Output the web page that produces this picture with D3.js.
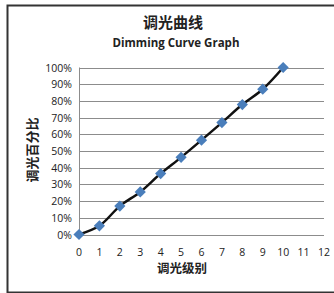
<!DOCTYPE html>
<html>
<head>
<meta charset="utf-8">
<script src="https://cdn.jsdelivr.net/npm/d3@7"></script>
<style>
  body { margin: 0; background: #fff; }
  svg { display: block; }
  text { font-family: "Open Sans", "Noto Sans CJK SC", sans-serif; fill: #222; }
</style>
</head>
<body>
<script>
var levels = [0, 1, 2, 3, 4, 5, 6, 7, 8, 9, 10];
var percents = [0, 5.2, 17, 25.5, 36.5, 46.2, 56.5, 67, 77.8, 87, 100];
var xTicks = [0, 1, 2, 3, 4, 5, 6, 7, 8, 9, 10, 11, 12];
var yTicks = [0, 10, 20, 30, 40, 50, 60, 70, 80, 90, 100];

var w = 334, h = 293;

var svg = d3.select("body").append("svg")
  .attr("width", w)
  .attr("height", h);

// outer chart frame
svg.append("rect")
  .attr("x", 7.5).attr("y", 5.5)
  .attr("width", 340).attr("height", 287)
  .attr("fill", "#fff")
  .attr("stroke", "#333")
  .attr("stroke-width", 2);

var xScale = d3.scaleLinear().domain([0, 12]).range([79, 324]);
var yScale = d3.scaleLinear().domain([0, 100]).range([234.5, 67.5]);

// gridlines
svg.selectAll("line.grid")
  .data(yTicks)
  .enter()
  .append("line")
  .attr("class", "grid")
  .attr("x1", xScale(0)).attr("x2", xScale(12))
  .attr("y1", function(d) { return Math.round(yScale(d)) + 0.5; })
  .attr("y2", function(d) { return Math.round(yScale(d)) + 0.5; })
  .attr("stroke", "#8c8c8c")
  .attr("stroke-width", 1);

// y axis line
svg.append("line")
  .attr("x1", xScale(0) + 0.5).attr("x2", xScale(0) + 0.5)
  .attr("y1", yScale(100)).attr("y2", yScale(0))
  .attr("stroke", "#8c8c8c");

// y tick labels
svg.selectAll("text.ytick")
  .data(yTicks)
  .enter()
  .append("text")
  .attr("class", "ytick")
  .attr("x", 72)
  .attr("y", function(d) { return yScale(d) + 4; })
  .attr("text-anchor", "end")
  .style("font-size", "10.5px")
  .text(function(d) { return d + "%"; });

// x tick labels
svg.selectAll("text.xtick")
  .data(xTicks)
  .enter()
  .append("text")
  .attr("class", "xtick")
  .attr("x", function(d) { return xScale(d); })
  .attr("y", 256)
  .attr("text-anchor", "middle")
  .style("font-size", "10.5px")
  .text(function(d) { return d; });

// titles
svg.append("text")
  .attr("x", 173).attr("y", 28)
  .attr("text-anchor", "middle")
  .style("font-family", "Noto Sans CJK SC")
  .style("font-weight", "bold")
  .style("font-size", "15px")
  .text("调光曲线");

svg.append("text")
  .attr("x", 176).attr("y", 47)
  .attr("text-anchor", "middle")
  .style("font-weight", "bold")
  .style("font-size", "11.5px")
  .text("Dimming Curve Graph");

svg.append("text")
  .attr("x", 182).attr("y", 273)
  .attr("text-anchor", "middle")
  .style("font-family", "Noto Sans CJK SC")
  .style("font-weight", "bold")
  .style("font-size", "12.5px")
  .text("调光级别");

svg.append("text")
  .attr("transform", "translate(37,150) rotate(-90)")
  .attr("text-anchor", "middle")
  .style("font-family", "Noto Sans CJK SC")
  .style("font-weight", "bold")
  .style("font-size", "13px")
  .text("调光百分比");

// curve
var line = d3.line()
  .x(function(d, i) { return xScale(levels[i]); })
  .y(function(d) { return yScale(d); })
  .curve(d3.curveCatmullRom);

svg.append("path")
  .datum(percents)
  .attr("d", line)
  .attr("fill", "none")
  .attr("stroke", "#111")
  .attr("stroke-width", 2.5);

// diamond markers
svg.selectAll("path.marker")
  .data(percents)
  .enter()
  .append("path")
  .attr("class", "marker")
  .attr("d", d3.symbol().type(d3.symbolDiamond2).size(80))
  .attr("transform", function(d, i) {
    return "translate(" + xScale(levels[i]) + "," + yScale(d) + ")";
  })
  .attr("fill", "#4a7ebb");
</script>
</body>
</html>
